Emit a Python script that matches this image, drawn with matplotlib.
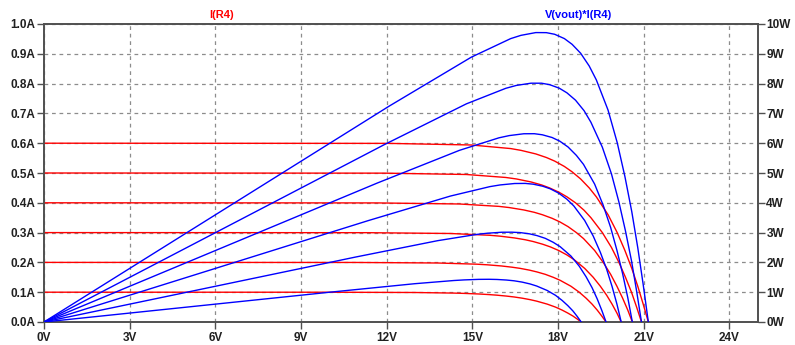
import matplotlib
matplotlib.use("Agg")
import matplotlib.pyplot as plt
import numpy as np

# Solar panel sweep: current through R4 versus output voltage, one trace per irradiance step
v_010 = [0, 10.10, 12.98, 14.35, 14.71, 15.22, 15.58, 15.86, 16.19, 16.46, 16.74, 17.02, 17.25, 17.62, 17.91, 18.14, 18.34, 18.52, 18.67, 18.81]
i_010 = [0.1, 0.0999, 0.099, 0.097, 0.096, 0.094, 0.092, 0.090, 0.087, 0.084, 0.080, 0.075, 0.070, 0.060, 0.050, 0.040, 0.030, 0.020, 0.010, 0.0]

v_020 = [0, 10.90, 13.78, 15.15, 15.51, 16.02, 16.38, 16.67, 17.00, 17.26, 17.55, 17.83, 18.07, 18.45, 18.74, 18.98, 19.19, 19.37, 19.53, 19.68]
i_020 = [0.2, 0.1998, 0.198, 0.194, 0.192, 0.188, 0.184, 0.180, 0.174, 0.168, 0.160, 0.150, 0.140, 0.120, 0.100, 0.080, 0.060, 0.040, 0.020, 0.0]

v_030 = [0, 11.35, 14.23, 15.61, 15.97, 16.48, 16.85, 17.13, 17.46, 17.73, 18.02, 18.31, 18.55, 18.93, 19.23, 19.48, 19.70, 19.89, 20.06, 20.21]
i_030 = [0.3, 0.2997, 0.297, 0.291, 0.288, 0.282, 0.276, 0.270, 0.261, 0.252, 0.240, 0.225, 0.210, 0.180, 0.150, 0.120, 0.090, 0.060, 0.030, 0.0]

v_040 = [0, 11.67, 14.55, 15.93, 16.29, 16.80, 17.17, 17.45, 17.79, 18.06, 18.35, 18.64, 18.89, 19.28, 19.58, 19.84, 20.06, 20.26, 20.44, 20.60]
i_040 = [0.4, 0.3996, 0.396, 0.388, 0.384, 0.376, 0.368, 0.360, 0.348, 0.336, 0.320, 0.300, 0.280, 0.240, 0.200, 0.160, 0.120, 0.080, 0.040, 0.0]

v_050 = [0, 11.91, 14.79, 16.17, 16.54, 17.05, 17.42, 17.70, 18.04, 18.31, 18.61, 18.91, 19.15, 19.55, 19.87, 20.13, 20.36, 20.57, 20.75, 20.92]
i_050 = [0.5, 0.4995, 0.495, 0.485, 0.480, 0.470, 0.460, 0.450, 0.435, 0.420, 0.400, 0.375, 0.350, 0.300, 0.250, 0.200, 0.150, 0.100, 0.050, 0.0]

v_060 = [0, 12.08, 14.96, 16.34, 16.70, 17.22, 17.59, 17.88, 18.22, 18.49, 18.79, 19.09, 19.34, 19.75, 20.07, 20.34, 20.58, 20.79, 20.98, 21.16]
i_060 = [0.6, 0.5994, 0.594, 0.582, 0.576, 0.564, 0.552, 0.540, 0.522, 0.504, 0.480, 0.450, 0.420, 0.360, 0.300, 0.240, 0.180, 0.120, 0.060, 0.0]

sweeps = [(v_010, i_010), (v_020, i_020), (v_030, i_030),
          (v_040, i_040), (v_050, i_050), (v_060, i_060)]

x_ticks = [0, 3, 6, 9, 12, 15, 18, 21, 24]
amp_ticks = [0.0, 0.1, 0.2, 0.3, 0.4, 0.5, 0.6, 0.7, 0.8, 0.9, 1.0]
watt_ticks = [0, 1, 2, 3, 4, 5, 6, 7, 8, 9, 10]

current_label = "I(R4)"
power_label = "V(vout)*I(R4)"

RED = "#ff0000"
BLUE = "#0000ff"
FRAME = "#505050"
GRID = "#8c8c8c"
TEXT = "#202020"

plt.rcParams["font.family"] = ["Liberation Sans", "DejaVu Sans"]
plt.rcParams["font.size"] = 8.5
plt.rcParams["font.weight"] = "bold"

fig = plt.figure(figsize=(7.95, 3.45), dpi=100, facecolor="white")
ax = fig.add_axes([44 / 795, 1 - 322 / 345, (758 - 44) / 795, (322 - 24) / 345])
ax2 = ax.twinx()

for v, i in sweeps:
    ax.plot(v, i, color=RED, lw=1.0, zorder=3)
    p = np.asarray(v) * np.asarray(i)
    ax2.plot(v, p, color=BLUE, lw=1.0, zorder=3)

ax.set_xlim(0, 25)
ax.set_ylim(0, 1.0)
ax2.set_ylim(0, 10)

ax.set_xticks(x_ticks)
ax.set_xticklabels([f"{t}V" for t in x_ticks])
ax.set_yticks(amp_ticks)
ax.set_yticklabels([f"{t:.1f}A" for t in amp_ticks])
ax2.set_yticks(watt_ticks)
ax2.set_yticklabels([f"{t}W" for t in watt_ticks])

for a in (ax, ax2):
    for s in a.spines.values():
        s.set_color(FRAME)
        s.set_linewidth(1.2)
    a.tick_params(colors=FRAME, labelcolor=TEXT, length=5, width=1.0,
                  labelsize=8.5, pad=1.0)

ax.tick_params(axis="x", pad=2.5)

ax.grid(True, color=GRID, linestyle=(0, (3, 3)), linewidth=0.9)
ax.set_axisbelow(True)

fig.text(222 / 795, 1 - 15 / 345, current_label, color=RED, ha="center",
         va="center", fontsize=8, fontweight="bold")
fig.text(579 / 795, 1 - 15 / 345, power_label, color=BLUE, ha="center",
         va="center", fontsize=8, fontweight="bold")

fig.savefig("out.png", dpi=100, facecolor="white")
